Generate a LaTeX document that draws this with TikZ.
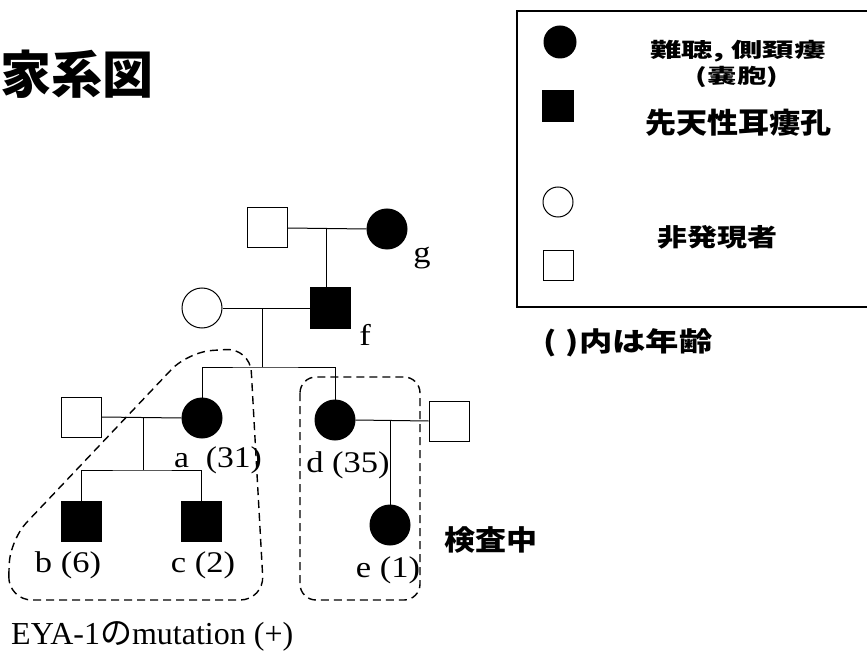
\documentclass[tikz,border=0pt]{standalone}
\usepackage{fontspec}
\usepackage{graphicx}
\setmainfont{Liberation Serif}
\newfontfamily\cjk{Noto Sans CJK JP}
\newcommand\sxy[3]{\scalebox{#1}[#2]{#3}}
\begin{document}
\begin{tikzpicture}[x=1pt,y=-1pt,
  mal/.style={draw,line width=1pt,minimum size=40pt,inner sep=0pt,fill=white},
  fem/.style={draw,line width=1pt,circle,minimum size=40pt,inner sep=0pt,fill=white},
  aff/.style={fill=black},
  rel/.style={line width=1pt},
  lbl/.style={font=\fontsize{30}{33}\selectfont,inner sep=0pt},
  jp/.style={font=\cjk\bfseries\fontsize{29}{33}\selectfont,inner sep=0pt},
  grp/.style={dashed,line width=1.4pt,dash pattern=on 8pt off 5pt}]
\useasboundingbox (0,0) rectangle (867,660);
% title
\node[font=\cjk\bfseries\fontsize{51}{56}\selectfont,anchor=west,inner sep=0pt] (title) at (0,74) {家系図};
% legend
\draw[line width=2.4pt] (880,11) -- (517,11) -- (517,307) -- (880,307);
\node[fem,aff,minimum size=32pt] (lf) at (560,42) {};
\node[mal,aff,minimum size=31pt] (lm) at (558,106) {};
\node[fem,minimum size=30pt] (lo) at (558,202) {};
\node[mal,minimum size=30pt] (ls) at (558,266) {};
\node[jp,font=\cjk\bfseries\fontsize{28}{32}\selectfont] (t1) at (738,51) {\sxy{1.12}{0.72}{難聴, 側頚瘻}};
\node[jp,font=\cjk\bfseries\fontsize{28}{32}\selectfont] (t2) at (737,77) {\sxy{1.05}{0.72}{(嚢胞)}};
\node[jp,font=\cjk\bfseries\fontsize{31}{35}\selectfont] (t3) at (738,123) {\sxy{1}{0.92}{先天性耳瘻孔}};
\node[jp,font=\cjk\bfseries\fontsize{30}{34}\selectfont] (t4) at (717,237) {\sxy{1}{0.82}{非発現者}};
\node[jp,font=\cjk\bfseries\fontsize{29}{32}\selectfont] (t5) at (628,343) {\sxy{1.15}{0.92}{(\hspace{8pt})内は年齢}};
\node[jp,font=\cjk\bfseries\fontsize{31}{35}\selectfont] (t6) at (491,540) {\sxy{1}{0.9}{検査中}};
% generation I
\node[mal] (gf) at (267,228) {};
\node[fem,aff] (g) at (387,229) {};
\draw[rel] (gf.east) -- (g.west);
\coordinate (m1) at (326,228);
% generation II
\node[mal,aff] (f) at (330,308) {};
\node[fem] (w) at (202,308) {};
\draw[rel] (m1) -- (m1 |- f.north);
\draw[rel] (w.east) -- (f.west);
\coordinate (m2) at (262,308);
\coordinate (s2) at (262,367);
\draw[rel] (m2) -- (s2);
% generation III
\node[fem,aff] (a) at (202,418) {};
\node[mal] (ah) at (81,417) {};
\node[fem,aff] (d) at (335,420) {};
\node[mal] (dh) at (449,421) {};
\draw[rel] (a.north) |- (s2) -| (d.north);
\draw[rel] (ah.east) -- (a.west);
\draw[rel] (d.east) -- (dh.west);
% generation IV
\node[mal,aff] (b) at (81,521) {};
\node[mal,aff] (c) at (201,521) {};
\node[fem,aff] (e) at (390,525) {};
\coordinate (m3) at (143,417);
\coordinate (s3) at (143,470);
\draw[rel] (m3) -- (s3);
\draw[rel] (b.north) |- (s3) -| (c.north);
\coordinate (m4) at (390,420);
\draw[rel] (m4) -- (e.north);
% labels
\node[lbl] (lg) at (422,258) {\sxy{1.15}{1}{g}};
\node[lbl] (lfl) at (365,335) {\sxy{1.15}{1}{f}};
\node[lbl] (la) at (218,460) {\sxy{1.12}{1}{a\ \ (31)}};
\node[lbl] (ld) at (348,465) {\sxy{1.15}{1}{d (35)}};
\node[lbl] (le) at (388,570) {\sxy{1.15}{1}{e (1)}};
\node[lbl] (lb) at (68,565) {\sxy{1.15}{1}{b (6)}};
\node[lbl] (lc) at (203,565) {\sxy{1.15}{1}{c (2)}};
% groups
\draw[grp,rounded corners=24pt] (8,600) -- (10,540) -- (188,352) -- (250,348) -- (264,600) -- cycle;
\draw[grp,rounded corners=16pt] (300,377) rectangle (420,600);
% mutation text
\node[font=\fontsize{32}{36}\selectfont,anchor=west,inner sep=0pt] (eya) at (11,636) {EYA-1{\cjk の}mutation (+)};
\end{tikzpicture}
\end{document}
